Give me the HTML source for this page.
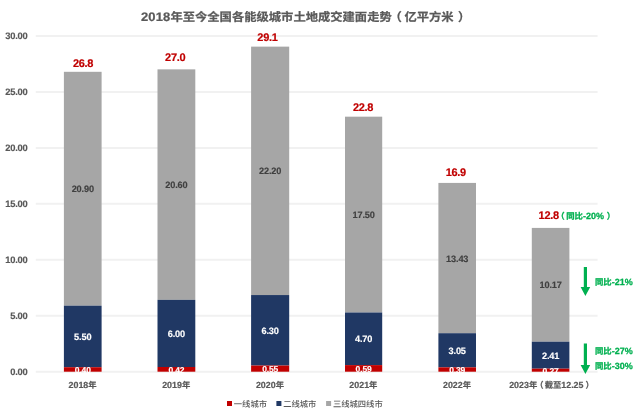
<!DOCTYPE html>
<html lang="zh-CN">
<head>
<meta charset="utf-8">
<title>2018年至今全国各能级城市土地成交建面走势</title>
<style>
html,body{margin:0;padding:0;background:#fff;}
body{width:640px;height:415px;overflow:hidden;}
svg{display:block;will-change:transform;}
text{font-family:"Liberation Sans","Noto Sans CJK SC",sans-serif;text-rendering:geometricPrecision;}
.ax{font-size:9.4px;font-weight:bold;fill:#595959;letter-spacing:-0.2px;stroke:#595959;stroke-width:0.15px;}
.xl{font-size:8.9px;font-weight:bold;fill:#595959;stroke:#595959;stroke-width:0.2px;}
.xl .c{font-size:8.3px;}
.ax .c{font-size:8.4px;}
.dl{font-size:9.2px;font-weight:bold;fill:#404040;letter-spacing:-0.15px;stroke:#404040;stroke-width:0.15px;}
.wl{font-size:9.2px;font-weight:bold;fill:#fff;letter-spacing:-0.15px;stroke:#fff;stroke-width:0.15px;}
.wl.s{font-size:8.5px;}
.tot{font-size:11px;font-weight:bold;fill:#c00000;letter-spacing:-0.3px;stroke:#c00000;stroke-width:0.2px;}
.gr{font-size:9px;font-weight:bold;fill:#00b050;stroke:#00b050;stroke-width:0.25px;}
.gr .c{font-size:8.4px;}
.lg{font-size:8.3px;font-weight:500;fill:#595959;}
.ti{font-size:12.3px;font-weight:bold;fill:#595959;stroke:#595959;stroke-width:0.25px;}
.ti .n{font-size:13px;letter-spacing:0.12px;}
</style>
</head>
<body>
<svg width="640" height="415" viewBox="0 0 640 415">
<rect width="640" height="415" fill="#fff"/>
<text class="ti" transform="translate(141,20.8) scale(1,0.95)"><tspan class="n">2018</tspan>年至今全国各能级城市土地成交建面走势<tspan dx="-2.2">（</tspan><tspan dx="2.6">亿平方米</tspan><tspan dx="4.2">）</tspan></text>

<line x1="35.8" x2="597.6" y1="371.70" y2="371.70" stroke="#f1f1f1" stroke-width="2"/>
<text class="ax" x="27.60" y="375.10" text-anchor="end">0.00</text>
<line x1="35.8" x2="597.6" y1="315.75" y2="315.75" stroke="#f1f1f1" stroke-width="2"/>
<text class="ax" x="27.60" y="319.15" text-anchor="end">5.00</text>
<line x1="35.8" x2="597.6" y1="259.80" y2="259.80" stroke="#f1f1f1" stroke-width="2"/>
<text class="ax" x="27.60" y="263.20" text-anchor="end">10.00</text>
<line x1="35.8" x2="597.6" y1="203.85" y2="203.85" stroke="#f1f1f1" stroke-width="2"/>
<text class="ax" x="27.60" y="207.25" text-anchor="end">15.00</text>
<line x1="35.8" x2="597.6" y1="147.90" y2="147.90" stroke="#f1f1f1" stroke-width="2"/>
<text class="ax" x="27.60" y="151.30" text-anchor="end">20.00</text>
<line x1="35.8" x2="597.6" y1="91.95" y2="91.95" stroke="#f1f1f1" stroke-width="2"/>
<text class="ax" x="27.60" y="95.35" text-anchor="end">25.00</text>
<line x1="35.8" x2="597.6" y1="36.00" y2="36.00" stroke="#f1f1f1" stroke-width="2"/>
<text class="ax" x="27.60" y="39.40" text-anchor="end">30.00</text>
<rect x="63.90" y="71.81" width="37.7" height="233.87" fill="#a6a6a6"/>
<rect x="63.90" y="305.68" width="37.7" height="61.55" fill="#203864"/>
<rect x="63.90" y="367.22" width="37.7" height="4.48" fill="#c00000"/>
<text class="dl" x="82.75" y="192.24" text-anchor="middle">20.90</text>
<text class="wl" x="82.75" y="339.95" text-anchor="middle">5.50</text>
<text class="wl s" x="82.75" y="373.06" text-anchor="middle">0.40</text>
<text class="tot" x="83.05" y="66.51" text-anchor="middle">26.8</text>
<text class="xl" x="82.55" y="388" text-anchor="middle">2018<tspan class="c">年</tspan></text>
<rect x="157.50" y="69.35" width="37.8" height="230.51" fill="#a6a6a6"/>
<rect x="157.50" y="299.86" width="37.8" height="67.14" fill="#203864"/>
<rect x="157.50" y="367.00" width="37.8" height="4.70" fill="#c00000"/>
<text class="dl" x="176.40" y="188.10" text-anchor="middle">20.60</text>
<text class="wl" x="176.40" y="336.93" text-anchor="middle">6.00</text>
<text class="wl s" x="176.40" y="372.95" text-anchor="middle">0.42</text>
<text class="tot" x="175.20" y="60.95" text-anchor="middle">27.0</text>
<text class="xl" x="176.20" y="388" text-anchor="middle">2019<tspan class="c">年</tspan></text>
<rect x="251.10" y="46.63" width="38.1" height="248.42" fill="#a6a6a6"/>
<rect x="251.10" y="295.05" width="38.1" height="70.50" fill="#203864"/>
<rect x="251.10" y="365.55" width="38.1" height="6.15" fill="#c00000"/>
<text class="dl" x="270.15" y="174.34" text-anchor="middle">22.20</text>
<text class="wl" x="270.15" y="333.80" text-anchor="middle">6.30</text>
<text class="wl s" x="270.15" y="372.22" text-anchor="middle">0.55</text>
<text class="tot" x="267.45" y="41.33" text-anchor="middle">29.1</text>
<text class="xl" x="269.95" y="388" text-anchor="middle">2020<tspan class="c">年</tspan></text>
<rect x="345.00" y="116.68" width="37.2" height="195.82" fill="#a6a6a6"/>
<rect x="345.00" y="312.50" width="37.2" height="52.59" fill="#203864"/>
<rect x="345.00" y="365.10" width="37.2" height="6.60" fill="#c00000"/>
<text class="dl" x="363.60" y="218.09" text-anchor="middle">17.50</text>
<text class="wl" x="363.60" y="342.30" text-anchor="middle">4.70</text>
<text class="wl s" x="363.60" y="372.00" text-anchor="middle">0.59</text>
<text class="tot" x="363.00" y="110.58" text-anchor="middle">22.8</text>
<text class="xl" x="363.40" y="388" text-anchor="middle">2021<tspan class="c">年</tspan></text>
<rect x="438.40" y="182.92" width="37.6" height="150.28" fill="#a6a6a6"/>
<rect x="438.40" y="333.21" width="37.6" height="34.13" fill="#203864"/>
<rect x="438.40" y="367.34" width="37.6" height="4.36" fill="#c00000"/>
<text class="dl" x="457.20" y="261.57" text-anchor="middle">13.43</text>
<text class="wl" x="457.20" y="353.77" text-anchor="middle">3.05</text>
<text class="wl s" x="457.20" y="373.12" text-anchor="middle">0.39</text>
<text class="tot" x="455.80" y="175.52" text-anchor="middle">16.9</text>
<text class="xl" x="457.00" y="388" text-anchor="middle">2022<tspan class="c">年</tspan></text>
<rect x="531.80" y="227.91" width="37.6" height="113.80" fill="#a6a6a6"/>
<rect x="531.80" y="341.71" width="37.6" height="26.97" fill="#203864"/>
<rect x="531.80" y="368.68" width="37.6" height="3.02" fill="#c00000"/>
<text class="dl" x="550.60" y="288.31" text-anchor="middle">10.17</text>
<text class="wl" x="550.60" y="358.69" text-anchor="middle">2.41</text>
<text class="wl s" x="550.60" y="373.79" text-anchor="middle">0.27</text>
<text class="tot" x="538.6" y="219.1">12.8</text>
<text class="gr" x="556.3" y="219"><tspan class="c">（</tspan><tspan class="c" dx="1.5">同比</tspan>-20%<tspan class="c" dx="2.8">）</tspan></text>
<text class="xl" x="509.2" y="388">2023<tspan class="c">年</tspan><tspan class="c" dx="-2.1">（</tspan><tspan class="c" dx="1.2">截至</tspan>12.25<tspan class="c" dx="2.0">）</tspan></text>
<polygon fill="#00b050" points="583.8,267.1 587.0,267.1 587.0,287.1 590.1999999999999,287.1 585.4,296.1 580.6,287.1 583.8,287.1"/>
<polygon fill="#00b050" points="583.8,343.4 587.0,343.4 587.0,365.1 590.1999999999999,365.1 585.4,374.1 580.6,365.1 583.8,365.1"/>
<text class="gr" x="595" y="285.4"><tspan class="c">同比</tspan>-21%</text>
<text class="gr" x="595" y="353.5"><tspan class="c">同比</tspan>-27%</text>
<text class="gr" x="595" y="368.5"><tspan class="c">同比</tspan>-30%</text>
<rect x="227" y="401" width="5" height="5" fill="#c00000"/><text class="lg" x="233.80" y="406.5">一线城市</text>
<rect x="276.4" y="401" width="5" height="5" fill="#203864"/><text class="lg" x="283.20" y="406.5">二线城市</text>
<rect x="326.1" y="401" width="5" height="5" fill="#a6a6a6"/><text class="lg" x="332.90" y="406.5">三线城四线市</text>
</svg>
</body>
</html>
